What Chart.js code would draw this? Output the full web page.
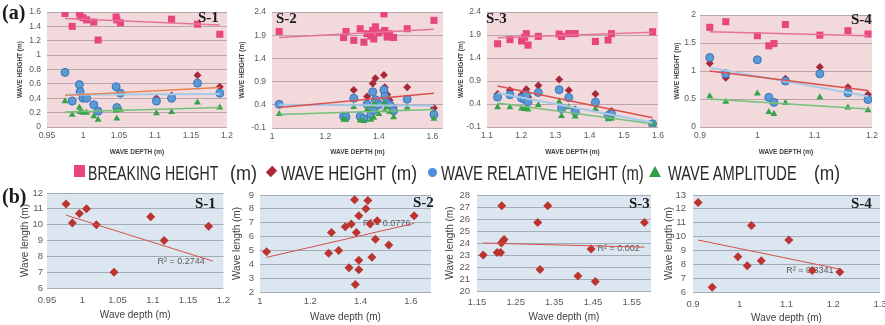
<!DOCTYPE html>
<html>
<head>
<meta charset="utf-8">
<script src="https://cdn.jsdelivr.net/npm/chart.js@4.4.0/dist/chart.umd.min.js"></script>
<style>
  html, body { margin: 0; padding: 0; background: #fff; overflow: hidden; }
  body { width: 885px; height: 325px; position: relative; }
  canvas { position: absolute; }
  .tag { position: absolute; font-family: 'Liberation Serif', 'DejaVu Serif', serif; font-weight: bold; color: #1a1a1a; white-space: nowrap; line-height: 1; }
  .leg { position: absolute; top: 163px; font-family: 'Liberation Sans Narrow', 'Liberation Sans', sans-serif; font-size: 20px; line-height: 20px; color: #2b2b2b; white-space: nowrap; transform-origin: 0 0; }
  .mk { position: absolute; }
</style>
</head>
<body>
<canvas id="a1"></canvas>
<canvas id="a2"></canvas>
<canvas id="a3"></canvas>
<canvas id="a4"></canvas>
<canvas id="b1"></canvas>
<canvas id="b2"></canvas>
<canvas id="b3"></canvas>
<canvas id="b4"></canvas>

<div class="tag" style="left:2px;top:2px;font-size:20px;">(a)</div>
<div class="tag" style="left:2px;top:186px;font-size:20px;">(b)</div>
<div class="tag" style="left:198px;top:10px;font-size:15px;">S-1</div>
<div class="tag" style="left:276px;top:11px;font-size:15px;">S-2</div>
<div class="tag" style="left:486px;top:11px;font-size:15px;">S-3</div>
<div class="tag" style="left:851px;top:12px;font-size:15px;">S-4</div>
<div class="tag" style="left:195px;top:196px;font-size:15px;">S-1</div>
<div class="tag" style="left:413px;top:195px;font-size:15px;">S-2</div>
<div class="tag" style="left:629px;top:196px;font-size:15px;">S-3</div>
<div class="tag" style="left:851px;top:196px;font-size:15px;">S-4</div>

<!-- shared legend of the (a) row -->
<div class="mk" style="left:74px;top:165px;width:11px;height:12px;background:#e8467c;"></div>
<div class="leg" style="left:88px;" data-w="130">BREAKING HEIGHT</div>
<div class="leg" style="left:230px;" data-w="27">(m)</div>
<div class="mk" style="left:268px;top:168px;width:7px;height:7px;background:#a8283a;transform:rotate(45deg) scaleY(1.3);"></div>
<div class="leg" style="left:281px;" data-w="105">WAVE HEIGHT</div>
<div class="leg" style="left:391px;" data-w="26">(m)</div>
<div class="mk" style="left:428px;top:168px;width:9px;height:9px;border-radius:50%;background:#4a90d9;"></div>
<div class="leg" style="left:441px;" data-w="203">WAVE RELATIVE HEIGHT (m)</div>
<div class="mk" style="left:649px;top:166px;width:0;height:0;border-left:6px solid transparent;border-right:6px solid transparent;border-bottom:11px solid #2f9e48;"></div>
<div class="leg" style="left:668px;" data-w="129">WAVE AMPLITUDE</div>
<div class="leg" style="left:814px;" data-w="26">(m)</div>

<script>
// ---- (a) wave heights against wave depth, station S-1 ----
const a1Depth = [0.975, 0.985, 0.995, 0.996, 1.0, 1.005, 1.015, 1.021, 1.046, 1.047, 1.052, 1.102, 1.123, 1.159, 1.19];
const a1Breaking = [1.58, 1.40, 1.59, 1.54, 1.52, 1.49, 1.46, 1.21, 1.53, 1.49, 1.45, null, 1.50, 1.43, 1.29];
const a1WaveHeight = [0.77, 0.37, 0.59, 0.49, 0.40, 0.40, 0.31, 0.22, 0.56, 0.27, 0.47, 0.40, 0.44, 0.72, 0.56];
const a1Relative = [0.76, 0.36, 0.59, 0.49, 0.40, 0.40, 0.31, 0.22, 0.56, 0.27, 0.47, 0.36, 0.40, 0.61, 0.47];
const a1Amplitude = [0.36, 0.17, 0.27, 0.21, 0.20, 0.20, 0.15, 0.10, 0.23, 0.12, 0.24, 0.19, 0.21, 0.34, 0.27];
const a1TrendDepth = [0.975, 1.19];
const a1TrendBreaking = [1.51, 1.42];
const a1TrendWave = [0.44, 0.55];
const a1TrendRelative = [0.45, 0.46];
const a1TrendAmplitude = [0.21, 0.27];

// S-2
const a2Depth = [1.027, 1.268, 1.277, 1.306, 1.330, 1.344, 1.356, 1.370, 1.377, 1.381, 1.387, 1.400, 1.419, 1.422, 1.431, 1.440, 1.455, 1.506, 1.606];
const a2Breaking = [1.98, 1.85, 1.98, 1.79, 2.04, 1.75, 1.93, 1.88, 2.00, 1.82, 2.08, 1.95, 2.36, 2.00, 1.86, 1.93, 1.85, 2.04, 2.22];
const a2WaveHeight = [0.41, 0.15, 0.14, 0.72, 0.15, 0.10, 0.58, 0.19, 0.86, 0.35, 0.97, 0.45, 1.04, 0.78, 0.62, 0.50, 0.35, 0.78, 0.33];
const a2Relative = [0.41, 0.15, 0.14, 0.54, 0.15, 0.10, 0.41, 0.19, 0.68, 0.29, 0.51, 0.40, 0.72, 0.58, 0.44, 0.40, 0.27, 0.52, 0.19];
const a2Amplitude = [0.20, 0.08, 0.08, 0.35, 0.06, 0.05, 0.30, 0.08, 0.38, 0.12, 0.42, 0.20, 0.43, 0.28, 0.35, 0.25, 0.13, 0.34, 0.10];
const a2TrendDepth = [1.027, 1.606];
const a2TrendBreaking = [1.85, 2.03];
const a2TrendWave = [0.34, 0.65];
const a2TrendRelative = [0.40, 0.38];
const a2TrendAmplitude = [0.19, 0.30];

// S-3
const a3Depth = [1.131, 1.167, 1.201, 1.210, 1.215, 1.220, 1.250, 1.311, 1.318, 1.339, 1.358, 1.417, 1.454, 1.464, 1.584];
const a3Breaking = [1.71, 1.80, 1.77, 1.85, 1.93, 1.68, 1.87, 1.92, 1.87, 1.93, 1.93, 1.76, 1.79, 1.93, 1.97];
const a3WaveHeight = [0.62, 0.70, 0.60, 0.65, 0.72, 0.55, 0.80, 0.93, 0.33, 0.70, 0.28, 0.62, 0.17, 0.25, -0.03];
const a3Relative = [0.55, 0.60, 0.53, 0.50, 0.60, 0.45, 0.65, 0.71, 0.30, 0.54, 0.23, 0.44, 0.15, 0.18, -0.03];
const a3Amplitude = [0.33, 0.33, 0.30, 0.29, 0.30, 0.28, 0.38, 0.45, 0.14, 0.33, 0.13, 0.29, 0.07, 0.08, -0.03];
const a3TrendDepth = [1.131, 1.584];
const a3TrendBreaking = [1.84, 1.96];
const a3TrendWave = [0.79, 0.10];
const a3TrendRelative = [0.64, 0.0];
const a3TrendAmplitude = [0.42, -0.03];

// S-4
const a4Depth = [0.917, 0.945, 1.0, 1.02, 1.029, 1.049, 1.109, 1.158, 1.193];
const a4Breaking = [1.78, 1.88, 1.63, 1.45, 1.49, 1.83, 1.64, 1.72, 1.66];
const a4WaveHeight = [1.14, 0.88, 1.20, 0.53, 0.44, 0.86, 1.07, 0.71, 0.58];
const a4Relative = [1.24, 0.95, 1.20, 0.53, 0.44, 0.82, 0.95, 0.61, 0.49];
const a4Amplitude = [0.55, 0.45, 0.60, 0.27, 0.23, 0.43, 0.53, 0.35, 0.30];
const a4TrendDepth = [0.917, 1.193];
const a4TrendBreaking = [1.70, 1.63];
const a4TrendWave = [1.0, 0.65];
const a4TrendRelative = [1.06, 0.55];
const a4TrendAmplitude = [0.50, 0.32];

// ---- (b) wave length against wave depth ----
const b1Depth = [0.977, 0.986, 0.996, 1.006, 1.02, 1.045, 1.097, 1.116, 1.179];
const b1Length = [11.3, 10.1, 10.7, 11.0, 10.0, 7.0, 10.5, 9.0, 9.9];
const b1TrendDepth = [0.977, 1.185];
const b1TrendLength = [10.6, 7.7];

const b2Depth = [1.026, 1.273, 1.284, 1.313, 1.339, 1.354, 1.363, 1.376, 1.379, 1.383, 1.393, 1.393, 1.393, 1.421, 1.429, 1.438, 1.445, 1.459, 1.466, 1.512, 1.613];
const b2Length = [4.9, 4.8, 6.3, 5.0, 6.7, 3.75, 6.9, 8.65, 2.55, 6.3, 7.5, 3.6, 4.3, 8.0, 8.6, 6.9, 4.5, 5.8, 7.15, 5.4, 7.5];
const b2TrendDepth = [1.026, 1.613];
const b2TrendLength = [4.5, 6.95];

const b3Depth = [1.166, 1.202, 1.211, 1.214, 1.213, 1.216, 1.220, 1.307, 1.313, 1.333, 1.411, 1.445, 1.456, 1.583];
const b3Length = [23.0, 23.2, 23.2, 27.1, 24.0, 24.1, 24.3, 25.7, 21.8, 27.1, 21.25, 23.5, 20.8, 25.7];
const b3TrendDepth = [1.166, 1.583];
const b3TrendLength = [24.0, 23.65];

const b4Depth = [0.911, 0.941, 0.996, 1.016, 1.025, 1.046, 1.105, 1.155, 1.214];
const b4Length = [12.45, 6.35, 8.55, 7.9, 10.8, 8.25, 9.75, 7.55, 7.45];
const b4TrendDepth = [0.911, 1.214];
const b4TrendLength = [9.75, 7.65];

// tick labels
const a1XTicks = [0.95, 1, 1.05, 1.1, 1.15, 1.2];
const a1YTicks = [0, 0.2, 0.4, 0.6, 0.8, 1, 1.2, 1.4, 1.6];
const a2XTicks = [1, 1.2, 1.4, 1.6];
const a2YTicks = [-0.1, 0.4, 0.9, 1.4, 1.9, 2.4];
const a3XTicks = [1.1, 1.2, 1.3, 1.4, 1.5, 1.6];
const a3YTicks = [-0.1, 0.4, 0.9, 1.4, 1.9, 2.4];
const a4XTicks = [0.9, 1, 1.1, 1.2];
const a4YTicks = [0, 0.5, 1, 1.5, 2];
const b1XTicks = [0.95, 1, 1.05, 1.1, 1.15, 1.2];
const b1YTicks = [6, 7, 8, 9, 10, 11, 12];
const b2XTicks = [1, 1.2, 1.4, 1.6];
const b2YTicks = [2, 3, 4, 5, 6, 7, 8, 9];
const b3XTicks = [1.15, 1.25, 1.35, 1.45, 1.55];
const b3YTicks = [20, 21, 22, 23, 24, 25, 26, 27, 28];
const b4XTicks = [0.9, 1, 1.1, 1.2, 1.3];
const b4YTicks = [6, 7, 8, 9, 10, 11, 12, 13];

Chart.defaults.font.family = "'Liberation Sans', sans-serif";

const pts = (xs, ys) => xs.map((x, i) => ({ x: x, y: ys[i] })).filter(p => p.y !== null);
const fmt = v => String(Math.round(v * 100) / 100);

// fills the plot area like the excel plot background
const plotBg = {
  id: 'plotBg',
  beforeDraw(chart, args, opts) {
    const { ctx, chartArea: a } = chart;
    ctx.save();
    ctx.fillStyle = opts.color;
    ctx.fillRect(a.left, a.top, a.width, a.height);
    ctx.restore();
  }
};

// R² text of the trendline, under the markers
const r2Label = {
  id: 'r2',
  beforeDatasetsDraw(chart, args, opts) {
    if (!opts.text) return;
    const { ctx, scales } = chart;
    ctx.save();
    ctx.font = "9px 'Liberation Sans', sans-serif";
    ctx.fillStyle = '#5a5a5a';
    ctx.textAlign = 'center';
    ctx.textBaseline = 'middle';
    ctx.fillText(opts.text, scales.x.getPixelForValue(opts.x), scales.y.getPixelForValue(opts.y));
    ctx.restore();
  }
};

function trend(xs, ys, color, width) {
  return { data: pts(xs, ys), showLine: true, pointRadius: 0, borderColor: color, borderWidth: width, order: 0 };
}

function heightSets(depth, br, wh, rel, amp, tx, tBr, tWh, tRel, tAmp, whColor) {
  return [
    trend(tx, tBr, '#e7739b', 1.5),
    trend(tx, tWh, whColor, 1.5),
    trend(tx, tRel, '#a6c9e8', 2),
    trend(tx, tAmp, '#74c077', 1.5),
    { data: pts(depth, amp), pointStyle: 'triangle', pointRadius: 4, backgroundColor: '#38a24a', borderColor: '#38a24a', borderWidth: 0, order: 1 },
    { data: pts(depth, rel), pointStyle: 'circle', pointRadius: 4, backgroundColor: '#5b9bd5', borderColor: '#3a74ba', borderWidth: 1, order: 2 },
    { data: pts(depth, wh), pointStyle: 'rectRot', pointRadius: 4, backgroundColor: '#a8283a', borderWidth: 0, order: 3 },
    { data: pts(depth, br), pointStyle: 'rect', pointRadius: 5, backgroundColor: '#e8467c', borderWidth: 0, order: 4 }
  ];
}

function lengthSets(depth, len, tx, tLen) {
  return [
    trend(tx, tLen, '#d6504c', 1),
    { data: pts(depth, len), pointStyle: 'rectRot', pointRadius: 4.5, backgroundColor: '#bb3430', borderWidth: 0, order: 1 }
  ];
}

function makeChart(id, box, c) {
  const cv = document.getElementById(id);
  cv.width = box.w;
  cv.height = box.h;
  cv.style.left = box.x + 'px';
  cv.style.top = box.y + 'px';
  const small = c.kind === 'a';
  const tickFont = { size: small ? 8.5 : 9.5 };
  const titleFont = small ? { size: 6.5, weight: 'bold' } : { size: 10 };
  return new Chart(cv.getContext('2d'), {
    type: 'scatter',
    data: { datasets: c.datasets },
    options: {
      responsive: false,
      animation: false,
      events: [],
      layout: { padding: { top: box.padTop, right: box.padRight, left: 0, bottom: 0 } },
      plugins: {
        legend: { display: false },
        tooltip: { enabled: false },
        plotBg: { color: small ? '#f2dadc' : '#dce6f1' },
        r2: c.r2 || {}
      },
      scales: {
        x: {
          type: 'linear', min: c.xMin, max: c.xMax,
          afterBuildTicks: s => { s.ticks = c.xTicks.map(v => ({ value: v })); },
          afterFit: s => { s.height = box.xH; },
          grid: { display: false, drawTicks: false },
          border: { display: false },
          ticks: { autoSkip: false, maxRotation: 0, padding: box.xPad, font: tickFont, color: '#595959', callback: fmt },
          title: { display: true, text: c.xTitle, font: titleFont, color: '#404040', padding: { top: 0, bottom: box.xTitlePad } }
        },
        y: {
          type: 'linear', min: c.yTicks[0], max: c.yTicks[c.yTicks.length - 1],
          afterBuildTicks: s => { s.ticks = c.yTicks.map(v => ({ value: v })); },
          afterFit: s => { s.width = box.yW; },
          grid: { drawTicks: false, color: small ? '#b9a6a9' : '#a3adb8', lineWidth: 1 },
          border: { display: false },
          ticks: { autoSkip: false, padding: box.yPad, font: tickFont, color: '#595959', callback: fmt },
          title: { display: true, text: c.yTitle, font: titleFont, color: '#404040', padding: { top: box.yTitlePad, bottom: 0 } }
        }
      }
    },
    plugins: [plotBg, r2Label]
  });
}

const aX = 'WAVE DEPTH (m)';
const aY = 'WAVE HEIGHT (m)';
const bX = 'Wave depth (m)';
const bY = 'Wave length (m)';

makeChart('a1', { x: 0, y: 0, w: 237, h: 160, yW: 47, xH: 33, padTop: 12, padRight: 10, xPad: 4, xTitlePad: 4, yPad: 6, yTitlePad: 16 }, {
  kind: 'a', xMin: 0.95, xMax: 1.2, xTicks: a1XTicks, yTicks: a1YTicks, xTitle: aX, yTitle: aY,
  datasets: heightSets(a1Depth, a1Breaking, a1WaveHeight, a1Relative, a1Amplitude, a1TrendDepth, a1TrendBreaking, a1TrendWave, a1TrendRelative, a1TrendAmplitude, '#e8824e')
});
makeChart('a2', { x: 232, y: 0, w: 221, h: 160, yW: 40, xH: 32, padTop: 12, padRight: 10, xPad: 4, xTitlePad: 4, yPad: 6, yTitlePad: 6 }, {
  kind: 'a', xMin: 1, xMax: 1.64, xTicks: a2XTicks, yTicks: a2YTicks, xTitle: aX, yTitle: aY,
  datasets: heightSets(a2Depth, a2Breaking, a2WaveHeight, a2Relative, a2Amplitude, a2TrendDepth, a2TrendBreaking, a2TrendWave, a2TrendRelative, a2TrendAmplitude, '#d9504c')
});
makeChart('a3', { x: 447, y: 0, w: 221, h: 160, yW: 40, xH: 33, padTop: 12, padRight: 10, xPad: 4, xTitlePad: 4, yPad: 6, yTitlePad: 10 }, {
  kind: 'a', xMin: 1.1, xMax: 1.6, xTicks: a3XTicks, yTicks: a3YTicks, xTitle: aX, yTitle: aY,
  datasets: heightSets(a3Depth, a3Breaking, a3WaveHeight, a3Relative, a3Amplitude, a3TrendDepth, a3TrendBreaking, a3TrendWave, a3TrendRelative, a3TrendAmplitude, '#d9504c')
});
makeChart('a4', { x: 663, y: 0, w: 222, h: 160, yW: 37, xH: 33, padTop: 15, padRight: 13, xPad: 4, xTitlePad: 4, yPad: 4, yTitlePad: 10 }, {
  kind: 'a', xMin: 0.9, xMax: 1.2, xTicks: a4XTicks, yTicks: a4YTicks, xTitle: aX, yTitle: aY,
  datasets: heightSets(a4Depth, a4Breaking, a4WaveHeight, a4Relative, a4Amplitude, a4TrendDepth, a4TrendBreaking, a4TrendWave, a4TrendRelative, a4TrendAmplitude, '#d9504c')
});

makeChart('b1', { x: 0, y: 180, w: 237, h: 145, yW: 47, xH: 37, padTop: 13, padRight: 10, xPad: 7, xTitlePad: 4, yPad: 4, yTitlePad: 19 }, {
  kind: 'b', xMin: 0.95, xMax: 1.2, xTicks: b1XTicks, yTicks: b1YTicks, xTitle: bX, yTitle: bY,
  datasets: lengthSets(b1Depth, b1Length, b1TrendDepth, b1TrendLength),
  r2: { text: 'R² = 0.2744', x: 1.14, y: 7.7 }
});
makeChart('b2', { x: 225, y: 180, w: 216, h: 145, yW: 35, xH: 33, padTop: 15, padRight: 10, xPad: 4, xTitlePad: 2, yPad: 6, yTitlePad: 6 }, {
  kind: 'b', xMin: 1, xMax: 1.68, xTicks: b2XTicks, yTicks: b2YTicks, xTitle: bX, yTitle: bY,
  datasets: lengthSets(b2Depth, b2Length, b2TrendDepth, b2TrendLength),
  r2: { text: 'R² = 0.0776', x: 1.504, y: 6.95 }
});
makeChart('b3', { x: 443, y: 180, w: 218, h: 145, yW: 34, xH: 34, padTop: 15, padRight: 10, xPad: 6, xTitlePad: 2, yPad: 7, yTitlePad: 1 }, {
  kind: 'b', xMin: 1.15, xMax: 1.6, xTicks: b3XTicks, yTicks: b3YTicks, xTitle: bX, yTitle: bY,
  datasets: lengthSets(b3Depth, b3Length, b3TrendDepth, b3TrendLength),
  r2: { text: 'R² = 0.002', x: 1.516, y: 23.56 }
});
makeChart('b4', { x: 660, y: 180, w: 235, h: 145, yW: 33, xH: 33, padTop: 15, padRight: 15, xPad: 7, xTitlePad: 1, yPad: 7, yTitlePad: 3 }, {
  kind: 'b', xMin: 0.9, xMax: 1.3, xTicks: b4XTicks, yTicks: b4YTicks, xTitle: bX, yTitle: bY,
  datasets: lengthSets(b4Depth, b4Length, b4TrendDepth, b4TrendLength),
  r2: { text: 'R² = 0.3341', x: 1.15, y: 7.52 }
});

// squeeze the legend words to the condensed widths of the original
document.querySelectorAll('.leg').forEach(el => {
  const target = Number(el.dataset.w);
  el.style.transform = 'scaleX(' + (target / el.offsetWidth) + ')';
});
</script>
</body>
</html>
